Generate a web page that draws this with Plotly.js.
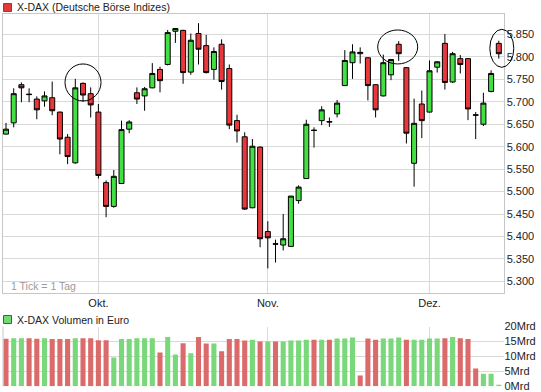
<!DOCTYPE html>
<html><head><meta charset="utf-8">
<script src="https://cdn.plot.ly/plotly-3.0.1.min.js"></script>
<style>html,body{margin:0;padding:0;background:#fff}#chart{width:541px;height:392px}</style>
</head><body><div id="chart"></div>
<script>
// ---- data ----
const dayIndex = Array.from({length: 65}, (_, i) => i);
const openP  = [5628,5653,5738,5717,5706,5702,5709,5677,5621,5564,5741,5718,5677,5520,5467,5518,5639,5720,5713,5731,5772,5783,5857,5859,5766,5852,5825,5772,5828,5774,5658,5622,5464,5599,5411,5384,5381,5378,5480,5529,5637,5658,5656,5673,5736,5787,5807,5798,5738,5713,5760,5828,5776,5563,5695,5677,5777,5830,5744,5796,5796,5671,5650,5723,5830];
const highP  = [5653,5730,5743,5730,5712,5723,5745,5678,5628,5751,5743,5732,5695,5525,5548,5658,5659,5732,5733,5786,5778,5860,5863,5860,5852,5875,5849,5821,5839,5783,5671,5632,5617,5600,5434,5393,5450,5490,5514,5660,5643,5690,5665,5704,5815,5828,5821,5799,5739,5805,5795,5835,5777,5707,5725,5792,5790,5851,5811,5804,5797,5677,5720,5770,5836];
const lowP   = [5627,5643,5699,5699,5661,5689,5670,5583,5561,5562,5700,5665,5529,5443,5464,5517,5630,5695,5680,5730,5721,5781,5831,5740,5760,5783,5763,5749,5727,5639,5609,5459,5463,5376,5329,5342,5369,5377,5473,5528,5598,5648,5644,5665,5735,5751,5785,5703,5665,5712,5748,5791,5607,5511,5619,5676,5765,5727,5742,5763,5659,5617,5646,5721,5796];
const closeP = [5639,5718,5731,5716,5682,5713,5680,5617,5578,5731,5715,5693,5536,5467,5534,5638,5655,5706,5729,5763,5747,5854,5863,5765,5837,5817,5765,5812,5745,5648,5635,5461,5601,5395,5397,5383,5395,5490,5510,5650,5636,5682,5655,5697,5792,5811,5810,5736,5682,5787,5794,5807,5630,5652,5658,5769,5789,5743,5807,5783,5684,5670,5697,5763,5807];
const volumeMrd = [15.9,16.1,16.1,16.1,15.9,16.1,15.8,15.8,15.8,16.1,16.1,16.1,15.4,15.4,9.6,15.8,15.8,16.1,16.1,16.1,11.3,16.5,10.6,14.4,11.0,16.5,14.3,14.3,11.7,15.8,15.8,15.3,15.6,15.0,15.0,15.0,15.0,15.3,15.3,15.6,15.6,15.6,15.6,16.0,16.0,16.3,3.6,16.0,15.6,16.0,16.0,16.3,15.6,15.6,15.6,16.0,16.0,16.1,16.5,16.1,15.8,5.9,4.2,4.2,0.5];
const volumeDir = ['d','u','u','d','d','u','d','d','d','u','d','d','d','d','u','u','u','u','u','u','d','u','u','d','u','d','d','u','d','d','d','d','u','d','u','d','u','u','u','u','d','u','d','u','u','u','d','d','d','u','u','u','d','u','u','u','u','d','u','d','d','d','u','u','u'];
const monthTickIdx = [12, 34, 55];
const monthTickText = ['Okt.', 'Nov.', 'Dez.'];
// marked candles (index, price)
const circledIdx = [10, 51, 64];
const circledPrice = [5743, 5822, 5819];

// ---- layout geometry ----
const W = 541, H = 392;
const PX = v => v / W, PY = v => 1 - v / H;
const X0 = 3, X1 = 503.5;
const xRange = [-0.39, 64.61];
const priceTop = 14, priceBot = 293;
const yRange = [5274.2, 5895.4];
const volTop = 326.5, volBot = 386.2;
const FONT = 'Liberation Sans, Arial, sans-serif';
const GRID = '#d9d9d9', BORDER = '#c6c6c6';

const idxToPaper = i => PX(X0) + (i - xRange[0]) / (xRange[1] - xRange[0]) * (PX(X1) - PX(X0));
const priceToPaper = p => PY(priceBot) + (p - yRange[0]) / (yRange[1] - yRange[0]) * (PY(priceTop) - PY(priceBot));

const candles = {
  type: 'candlestick', x: dayIndex, open: openP, high: highP, low: lowP, close: closeP,
  xaxis: 'x', yaxis: 'y', hoverinfo: 'skip', whiskerwidth: 0,
  increasing: {line: {color: '#000', width: 1}, fillcolor: '#42e042'},
  decreasing: {line: {color: '#000', width: 1}, fillcolor: '#e8383c'},
  showlegend: false
};
const volBars = {
  type: 'bar', x: dayIndex, y: volumeMrd, xaxis: 'x2', yaxis: 'y2', width: 0.66,
  marker: {color: volumeDir.map(d => d === 'u' ? '#79d879' : '#db6b6b'), line: {width: 0}},
  hoverinfo: 'skip', showlegend: false
};

const ellipseSize = [[36, 37], [40, 34], [24, 38]];
const ellipseOffset = [0, -1, 3];
const shapes = [
  {type: 'rect', xref: 'paper', yref: 'paper', x0: PX(3.5), x1: PX(11.5), y0: PY(11.5), y1: PY(3.5), fillcolor: '#e03a3a', line: {color: '#555', width: 1}},
  {type: 'rect', xref: 'paper', yref: 'paper', x0: PX(3.5), x1: PX(11.5), y0: PY(323.5), y1: PY(315.5), fillcolor: '#74d874', line: {color: '#555', width: 1}},
  {type: 'line', xref: 'paper', yref: 'paper', x0: PX(X0), x1: PX(X0), y0: PY(volBot), y1: PY(volTop), line: {color: BORDER, width: 1}}
];
circledIdx.forEach((ix, k) => {
  const cx = idxToPaper(ix) + ellipseOffset[k] / W, cy = priceToPaper(circledPrice[k]);
  const [w, h] = ellipseSize[k];
  shapes.push({type: 'circle', xref: 'paper', yref: 'paper', x0: cx - w / 2 / W, x1: cx + w / 2 / W, y0: cy - h / 2 / H, y1: cy + h / 2 / H, line: {color: '#000', width: 1}});
});

const layout = {
  width: W, height: H, margin: {l: 0, r: 0, t: 0, b: 0},
  paper_bgcolor: '#fff', plot_bgcolor: '#fff', showlegend: false,
  separators: ',.', boxgap: 0.35, boxgroupgap: 0,
  font: {family: FONT, size: 11, color: '#222'},
  xaxis: {domain: [PX(X0), PX(X1)], range: xRange, anchor: 'y', rangeslider: {visible: false},
    tickmode: 'array', tickvals: monthTickIdx, ticktext: monthTickText, ticks: '',
    showgrid: true, gridcolor: GRID, zeroline: false, showline: true, mirror: true, linecolor: BORDER,
    tickfont: {family: FONT, size: 11, color: '#222'}, fixedrange: true},
  yaxis: {domain: [PY(priceBot), PY(priceTop)], range: yRange, anchor: 'x', side: 'right',
    tick0: 5300, dtick: 50, tickformat: ',.0f', ticks: '', showgrid: true, gridcolor: GRID,
    zeroline: false, showline: true, mirror: true, linecolor: BORDER, ticklabeloverflow: 'allow',
    tickfont: {family: FONT, size: 11, color: '#222'}, fixedrange: true},
  xaxis2: {domain: [PX(X0), PX(X1)], range: xRange, anchor: 'y2', tickmode: 'array', tickvals: monthTickIdx,
    showticklabels: false, ticks: '', showgrid: true, gridcolor: GRID, zeroline: false, showline: false, fixedrange: true},
  yaxis2: {domain: [PY(volBot), PY(volTop)], range: [0, 20], anchor: 'x2', side: 'right',
    tick0: 0, dtick: 5, ticksuffix: 'Mrd', ticks: '', showgrid: true, gridcolor: GRID, zeroline: false,
    ticklabeloverflow: 'allow',
    tickfont: {family: FONT, size: 11, color: '#222'}, fixedrange: true},
  shapes: shapes,
  annotations: [
    {xref: 'paper', yref: 'paper', x: PX(15), y: PY(7.5), xanchor: 'left', yanchor: 'middle', showarrow: false,
      text: 'X-DAX (Deutsche Börse Indizes)', font: {family: FONT, size: 10.5, color: '#222'}},
    {xref: 'paper', yref: 'paper', x: PX(15), y: PY(319.5), xanchor: 'left', yanchor: 'middle', showarrow: false,
      text: 'X-DAX Volumen in Euro', font: {family: FONT, size: 10.5, color: '#222'}},
    {xref: 'paper', yref: 'paper', x: PX(9), y: PY(286), xanchor: 'left', yanchor: 'middle', showarrow: false,
      text: '1 Tick = 1 Tag', font: {family: FONT, size: 10.5, color: '#9a9a9a'}}
  ]
};

Plotly.newPlot('chart', [candles, volBars], layout, {staticPlot: true, displayModeBar: false});
</script>
</body></html>
